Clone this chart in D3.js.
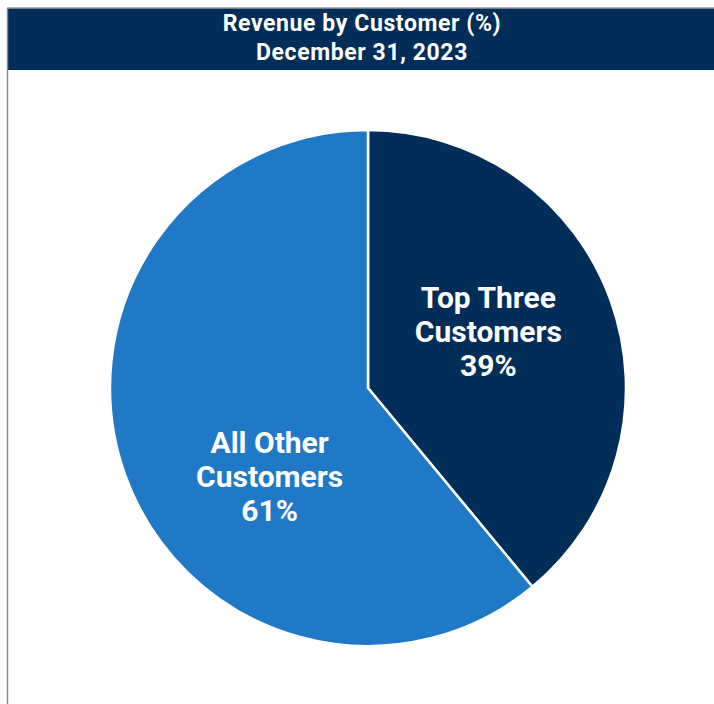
<!DOCTYPE html>
<html>
<head>
<meta charset="utf-8">
<script src="https://cdn.jsdelivr.net/npm/d3@7"></script>
<style>
  html, body { margin: 0; padding: 0; background: #ffffff; }
  svg { display: block; }
</style>
</head>
<body>
<svg id="chart" width="714" height="704"></svg>
<script>
// Revenue split by customer group
const categories = ["Top Three Customers", "All Other Customers"];
const labelLines = [["Top Three", "Customers"], ["All Other", "Customers"]];
const shares = [39, 61];
const colors = ["#012D59", "#2079C6"];
const titleLines = ["Revenue by Customer (%)", "December 31, 2023"];

const svg = d3.select("#chart");
const W = 714, H = 704;

// frame: gray top and left rules, navy header band
svg.append("rect").attr("x", 7).attr("y", 8).attr("width", W - 7).attr("height", 62)
  .attr("fill", "#012D59");
svg.append("line").attr("x1", 7).attr("x2", W).attr("y1", 8).attr("y2", 8)
  .attr("stroke", "#9a9a9a").attr("stroke-width", 1.5);
svg.append("line").attr("x1", 7.5).attr("x2", 7.5).attr("y1", 8).attr("y2", H)
  .attr("stroke", "#8a8a8a").attr("stroke-width", 1.5);

svg.selectAll("text.title").data(titleLines).enter().append("text")
  .attr("class", "title")
  .attr("x", 362).attr("y", (d, i) => 31 + i * 29)
  .attr("text-anchor", "middle")
  .attr("fill", "#ffffff")
  .style("font-family", "Roboto, 'Liberation Sans', sans-serif")
  .style("font-weight", "700")
  .style("font-size", "23px")
  .style("letter-spacing", "0.6px")
  .text(d => d);

// pie
const cx = 368, cy = 388, R = 258;
const pie = d3.pie().sort(null).value(d => d)(shares);
const arc = d3.arc().innerRadius(0).outerRadius(R);
const g = svg.append("g").attr("transform", `translate(${cx},${cy})`);

g.selectAll("path").data(pie).enter().append("path")
  .attr("d", arc)
  .attr("fill", (d, i) => colors[i])
  .attr("stroke", "#ffffff")
  .attr("stroke-width", 2.5)
  .attr("stroke-linejoin", "round");

// slice labels: centroid of a mid-radius arc, nudged into the open area of each slice
const labelArc = d3.arc().innerRadius(R * 0.5).outerRadius(R * 0.5);
const labelNudge = [[-1, -13], [23, 44]];
pie.forEach((d, i) => {
  const [px, py] = labelArc.centroid(d);
  const lx = px + labelNudge[i][0], ly = py + labelNudge[i][1];
  const lines = labelLines[i].concat([shares[i] + "%"]);
  const t = g.append("text")
    .attr("text-anchor", "middle")
    .attr("fill", "#ffffff")
    .style("font-family", "Roboto, 'Liberation Sans', sans-serif")
    .style("font-weight", "700")
    .style("font-size", "30px");
  lines.forEach((s, k) => {
    t.append("tspan").attr("x", lx).attr("y", ly + (k - 1) * 34 + 11).text(s);
  });
});
</script>
</body>
</html>
